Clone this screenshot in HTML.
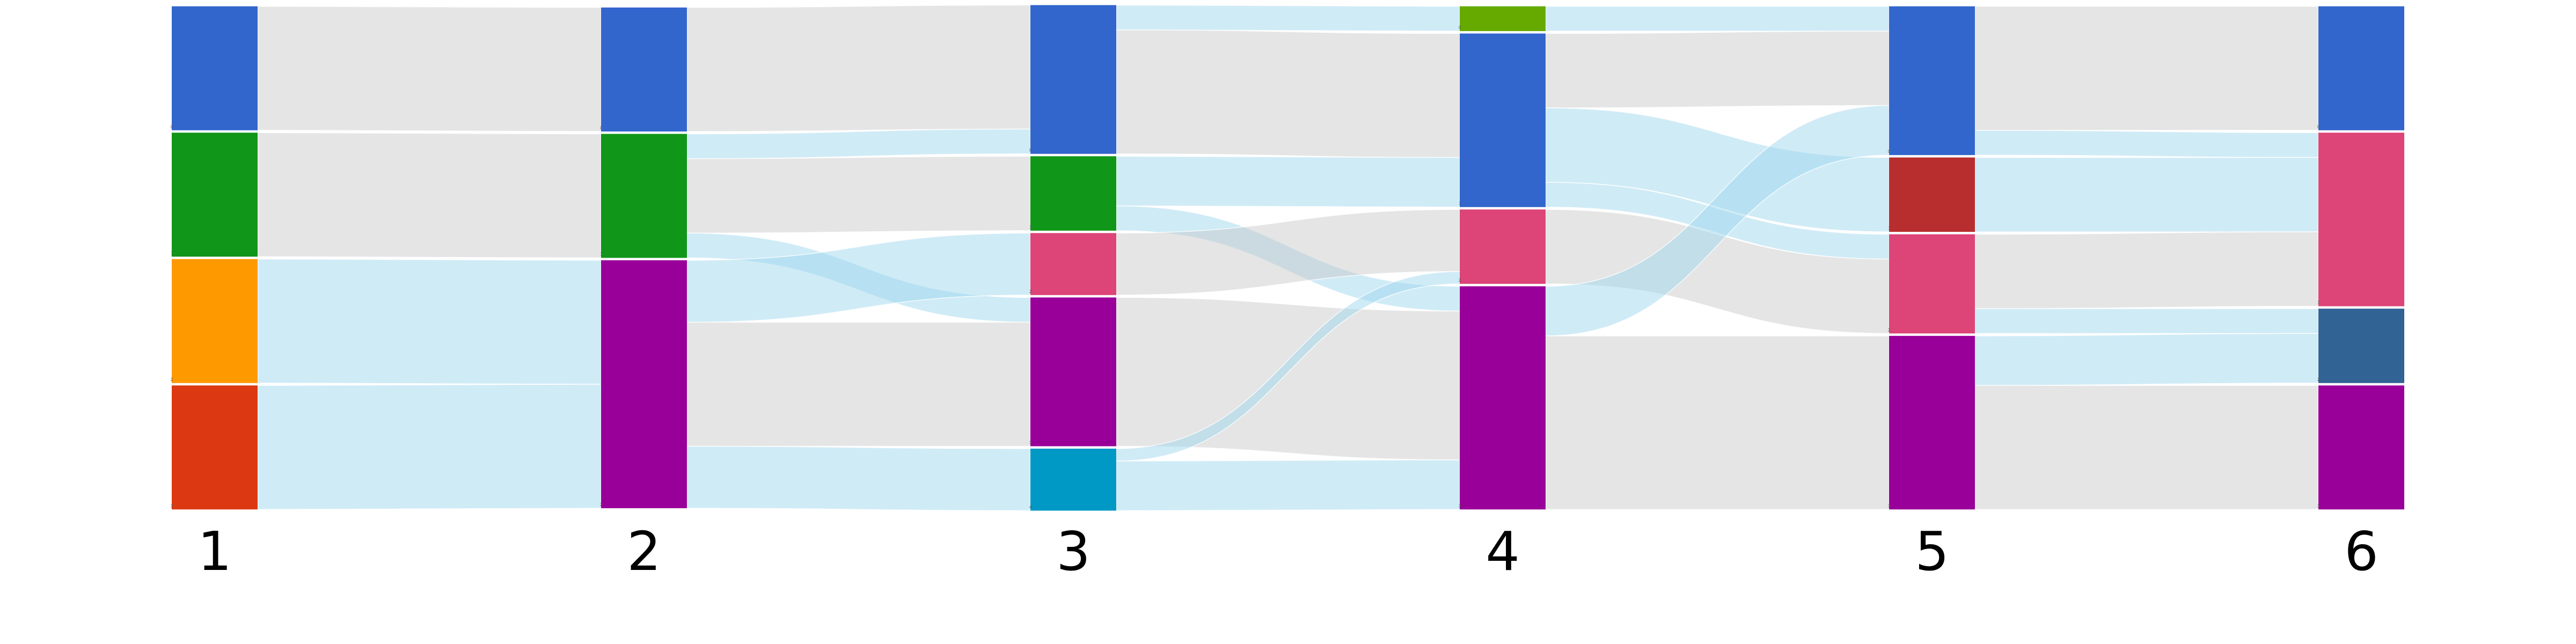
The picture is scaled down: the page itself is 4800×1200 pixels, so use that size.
<!DOCTYPE html>
<html><head><meta charset="utf-8"><style>
html,body{margin:0;padding:0;background:#fff;}
svg{display:block;}
</style></head><body>
<svg id="chart" width="4800" height="1200" viewBox="0 0 4800 1200" xmlns="http://www.w3.org/2000/svg">
<g id="links"></g>
<g id="nodes"></g>
<g id="labels"></g>
</svg>
<script>
const stages = ["1","2","3","4","5","6"];
const nodeNames = [
  ["c1-blue","c1-green","c1-orange","c1-red"],
  ["c2-blue","c2-green","c2-purple"],
  ["c3-blue","c3-green","c3-pink","c3-purple","c3-cyan"],
  ["c4-lime","c4-blue","c4-pink","c4-purple"],
  ["c5-blue","c5-darkred","c5-pink","c5-purple"],
  ["c6-blue","c6-pink","c6-steel","c6-purple"]
];
const nodeColors = [
  ["#3366cc","#109618","#ff9900","#dc3912"],
  ["#3366cc","#109618","#990099"],
  ["#3366cc","#109618","#dd4477","#990099","#0099c6"],
  ["#66aa00","#3366cc","#dd4477","#990099"],
  ["#3366cc","#b82e2e","#dd4477","#990099"],
  ["#3366cc","#dd4477","#316395","#990099"]
];
const linkSources = ["c1-blue","c1-green","c1-orange","c1-red",
  "c2-blue","c2-green","c2-green","c2-green","c2-purple","c2-purple","c2-purple",
  "c3-blue","c3-blue","c3-green","c3-green","c3-pink","c3-purple","c3-cyan","c3-cyan",
  "c4-lime","c4-blue","c4-blue","c4-blue","c4-pink","c4-purple","c4-purple",
  "c5-blue","c5-blue","c5-darkred","c5-pink","c5-pink","c5-purple","c5-purple"];
const linkTargets = ["c2-blue","c2-green","c2-purple","c2-purple",
  "c3-blue","c3-blue","c3-green","c3-purple","c3-pink","c3-purple","c3-cyan",
  "c4-lime","c4-blue","c4-blue","c4-purple","c4-pink","c4-purple","c4-pink","c4-purple",
  "c5-blue","c5-blue","c5-darkred","c5-pink","c5-pink","c5-blue","c5-purple",
  "c6-blue","c6-pink","c6-pink","c6-pink","c6-steel","c6-steel","c6-purple"];
const linkValues = [25,25,25,25,
  25,5,15,5,12.5,25,12.5,
  5,25,10,5,12.5,30,2.5,10,
  5,15,15,5,15,10,35,
  25,5,15,15,5,10,25];
const linkSame = [1,1,0,0, 1,0,1,0,0,1,0, 0,1,0,0,1,1,0,0, 0,1,0,0,1,0,1, 1,0,0,1,0,0,1];

const NS="http://www.w3.org/2000/svg";
const colX = i => 320 + i*800;
const NW = 160, K = 9.24, GAP = 4.5, CY = 480.5;
const nodes = {};
nodeNames.forEach((col,ci)=>{
  col.forEach((n,ni)=>{ nodes[n]={col:ci,idx:ni,color:nodeColors[ci][ni],inV:0,outV:0}; });
});
linkSources.forEach((s,i)=>{ nodes[s].outV+=linkValues[i]; nodes[linkTargets[i]].inV+=linkValues[i]; });
nodeNames.forEach((col,ci)=>{
  const vals = col.map(n=>Math.max(nodes[n].inV,nodes[n].outV));
  const total = vals.reduce((a,b)=>a+b,0)*K + GAP*(col.length-1);
  let y = CY - total/2;
  col.forEach((n,ni)=>{ const nd=nodes[n]; nd.y0=y; nd.h=vals[ni]*K; y+=nd.h+GAP; });
});
const yc = n => nodes[n].y0 + nodes[n].h/2;
const links = linkSources.map((s,i)=>({s,t:linkTargets[i],v:linkValues[i],same:linkSame[i],i}));
// source stacking
Object.keys(nodes).forEach(n=>{
  let y = nodes[n].y0;
  links.filter(l=>l.s===n).sort((a,b)=>yc(a.t)-yc(b.t)).forEach(l=>{ l.sy=y; y+=l.v*K; });
  y = nodes[n].y0;
  links.filter(l=>l.t===n).sort((a,b)=>yc(a.s)-yc(b.s)).forEach(l=>{ l.ty=y; y+=l.v*K; });
});
const gL = document.getElementById('links');
links.forEach(l=>{
  const x0 = colX(nodes[l.s].col)+NW, x1 = colX(nodes[l.t].col), xm=(x0+x1)/2, h=l.v*K;
  const d = `M${x0},${l.sy} C${xm},${l.sy} ${xm},${l.ty} ${x1},${l.ty} L${x1},${l.ty+h} C${xm},${l.ty+h} ${xm},${l.sy+h} ${x0},${l.sy+h} Z`;
  const p = document.createElementNS(NS,'path');
  p.setAttribute('d',d);
  p.setAttribute('fill', l.same ? 'rgb(200,200,200)' : 'rgb(160,215,238)');
  p.setAttribute('fill-opacity', l.same ? '0.47' : '0.5');
  p.setAttribute('stroke','#fff');
  p.setAttribute('stroke-width','1.5');
  p.setAttribute('stroke-opacity','0.8');
  
  
  gL.appendChild(p);
});
const gN = document.getElementById('nodes');
Object.keys(nodes).forEach(n=>{
  const nd = nodes[n];
  const r = document.createElementNS(NS,'rect');
  r.setAttribute('x',colX(nd.col)); r.setAttribute('y',nd.y0);
  r.setAttribute('width',NW); r.setAttribute('height',nd.h);
  r.setAttribute('fill',nd.color);
  
  
  gN.appendChild(r);
  const t = document.createElementNS(NS,'text');
  t.setAttribute('x',colX(nd.col)-2); t.setAttribute('y',nd.y0+nd.h-4);
  t.setAttribute('font-size','8'); t.setAttribute('fill','#555');
  t.setAttribute('font-family','Liberation Sans, sans-serif');
  t.textContent = nd.idx;
  
  
  gN.appendChild(t);
});
const gT = document.getElementById('labels');
stages.forEach((s,i)=>{
  const t = document.createElementNS(NS,'text');
  t.setAttribute('x',colX(i)+NW/2); t.setAttribute('y',1062);
  t.setAttribute('text-anchor','middle');
  t.setAttribute('font-size','100');
  t.setAttribute('font-family','DejaVu Sans, Liberation Sans, sans-serif');
  t.setAttribute('fill','#000');
  t.textContent = s;
  
  
  gT.appendChild(t);
});
</script>
</body></html>
